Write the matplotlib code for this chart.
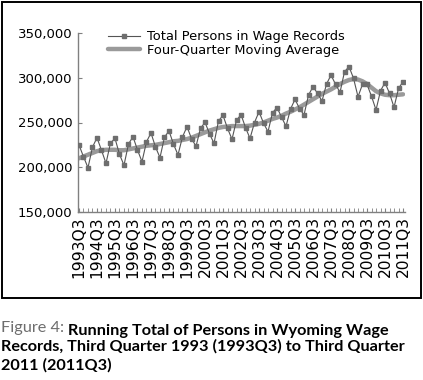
import numpy as np
import matplotlib
matplotlib.use("Agg")
import matplotlib.pyplot as plt
from matplotlib.patches import Rectangle

# quarters 1993Q3 .. 2011Q3, label shown on every Q3
years = list(range(1993, 2012))
tick_labels = [f"{y}Q3" for y in years]

# total persons in wage records
persons = [224900, 211800, 199500, 222500, 233000, 219000, 204400, 227000,
           232300, 214400, 202300, 226000, 234100, 219300, 206200, 228500,
           238300, 222600, 210800, 233700, 240600, 225800, 213800, 234000,
           245300, 232000, 223400, 243500, 250200, 237500, 226700, 251800,
           258000, 243500, 231300, 252400, 258800, 244400, 232200, 250000,
           262000, 249400, 239700, 261000, 266700, 256100, 245800, 265000,
           275900, 265600, 258400, 280700, 290000, 282600, 274000, 293000,
           303000, 292700, 283700, 306800, 312400, 299400, 278800, 292700,
           292500, 279300, 264000, 285500, 294500, 282600, 267000, 288000,
           295700]

# four-quarter moving average
moving_avg = [210000, 212000, 214000, 216000, 218000, 219000, 219500, 219500,
              219500, 219000, 219000, 220000, 221000, 222000, 223000, 224000,
              224500, 225000, 226000, 227000, 228000, 229000, 229500, 230500,
              231500, 233000, 235000, 237000, 239000, 241000, 242500, 244000,
              245000, 245500, 246000, 246000, 246000, 246000, 246500, 247500,
              248500, 250000, 252000, 254000, 255500, 257500, 260000, 262000,
              264500, 267000, 270000, 273000, 276000, 279000, 282000, 284500,
              287000, 290000, 293000, 295500, 297500, 298500, 298000, 296000,
              293000, 289000, 285000, 282500, 281000, 280500, 280500, 281000,
              281500]

W, H = 423, 380
fig = plt.figure(figsize=(W / 100, H / 100), dpi=100)
ax = fig.add_axes([78 / W, 1 - 212 / H, (405 - 78) / W, (212 - 33) / H])

x = np.arange(len(persons))
ax.plot(x, persons, color="#555555", lw=0.8, marker="s", ms=3.2,
        mfc="#6e6e6e", mec="#6e6e6e", label="Total Persons in Wage Records",
        zorder=3)
ax.plot(x, moving_avg, color="#9a9a9a", lw=3.2, solid_capstyle="round",
        label="Four-Quarter Moving Average", zorder=2)

ax.set_xlim(-0.22, len(persons) - 1 + 0.44)
ax.set_ylim(150000, 350000)
ax.set_yticks([150000, 200000, 250000, 300000, 350000])
ax.set_yticklabels([f"{v:,}" for v in [150000, 200000, 250000, 300000, 350000]])
ax.set_xticks(np.arange(0, len(persons), 4))
ax.set_xticklabels(tick_labels, rotation=90)
ax.set_xticks(x, minor=True)

for s in ["top", "right"]:
    ax.spines[s].set_visible(False)
for s in ["left", "bottom"]:
    ax.spines[s].set_color("#808080")
    ax.spines[s].set_linewidth(1.0)
ax.tick_params(axis="y", direction="in", length=3, color="#808080",
               labelsize=9.5, pad=4)
ax.tick_params(axis="x", which="both", direction="in", length=3,
               color="#808080", labelsize=11.2, pad=3)

leg = ax.legend(loc="upper left", bbox_to_anchor=(0.075, 1.045), frameon=False,
                fontsize=9.4, handlelength=2.5, labelspacing=0.05,
                handletextpad=0.5, borderaxespad=0)

# border round the chart
fig.patches.append(Rectangle((1.5 / W, 1 - 298 / H), 419.5 / W, 296.5 / H,
                             transform=fig.transFigure, fill=False,
                             ec="black", lw=1.4))

# caption: size chosen so the second line is about 405 px wide
line2 = "Records, Third Quarter 1993 (1993Q3) to Third Quarter"
probe = fig.text(0, 0, line2, fontsize=10, family="Lato", fontweight="bold")
fig.canvas.draw()
wpx = probe.get_window_extent().width
probe.remove()
size = 10 * 405 / wpx

cap = dict(fontsize=size, family="Lato", va="baseline")
t1 = fig.text(1 / W, 1 - 332 / H, "Figure 4: ", color="#6d6d6d", **cap)
fig.canvas.draw()
ax.annotate("Running Total of Persons in Wyoming Wage", xy=(1, 0),
            xycoords=t1, fontweight="bold", color="black", annotation_clip=False,
            **cap)
fig.text(1 / W, 1 - 351 / H, line2, fontweight="bold", color="black", **cap)
fig.text(1 / W, 1 - 370 / H, "2011 (2011Q3)", fontweight="bold",
         color="black", **cap)

fig.savefig("out.png", dpi=100)
